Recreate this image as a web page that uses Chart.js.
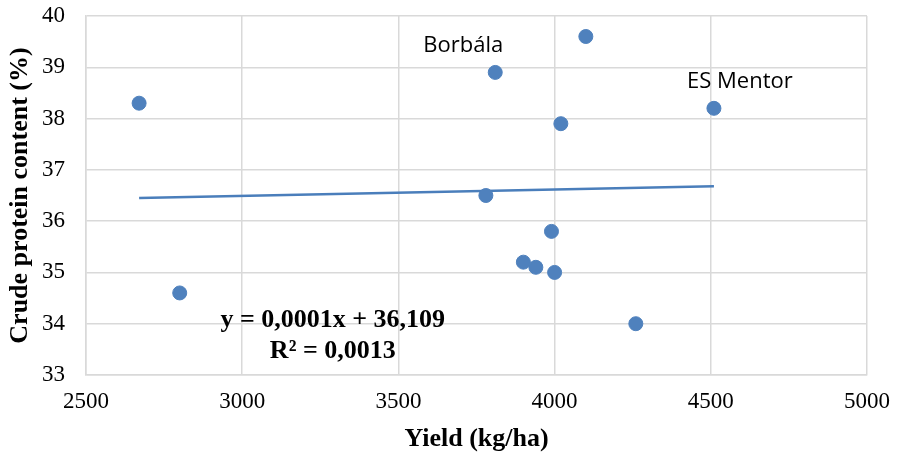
<!DOCTYPE html>
<html>
<head>
<meta charset="utf-8">
<script src="https://cdn.jsdelivr.net/npm/chart.js@4"></script>
<style>
  html, body { margin: 0; padding: 0; background: #ffffff; }
  #wrap { width: 901px; height: 455px; }
</style>
</head>
<body>
<div id="wrap"><canvas id="chart" width="901" height="455"></canvas></div>
<script>
// data
const yieldKg    = [2670, 2800, 3810, 4100, 4020, 4510, 3780, 3990, 3900, 3940, 4000, 4260];
const proteinPct = [38.3, 34.6, 38.9, 39.6, 37.9, 38.2, 36.5, 35.8, 35.2, 35.1, 35.0, 34.0];
const pointNames = ["", "", "Borbála", "", "", "ES Mentor", "", "", "", "", "", ""];

// linear trendline end points (as drawn)
const trendX = [2670, 4510];
const trendY = [36.45, 36.68];

const xRange = [2500, 5000, 500];
const yRange = [33, 40, 1];
const equationLines = ["y = 0,0001x + 36,109", "R² = 0,0013"];

const BLUE = "#4F81BD";
const GRID = "#d9d9d9";
const NONE = "rgba(0,0,0,0)";

const points = yieldKg.map((x, i) => ({ x: x, y: proteinPct[i] }));
const trend = trendX.map((x, i) => ({ x: x, y: trendY[i] }));

// point labels + trendline equation
const labelPlugin = {
  id: "labels",
  afterDatasetsDraw(chart) {
    const ctx = chart.ctx;
    const xs = chart.scales.x, ys = chart.scales.y;
    ctx.save();
    ctx.fillStyle = "#000";
    ctx.font = "22px 'Open Sans'";
    ctx.textAlign = "center";
    ctx.textBaseline = "alphabetic";
    pointNames.forEach((name, i) => {
      if (!name) return;
      const px = xs.getPixelForValue(yieldKg[i]);
      const py = ys.getPixelForValue(proteinPct[i]);
      // Borbála sits up-left of its point, ES Mentor up-right
      const dx = i === 2 ? -32 : 26;
      ctx.fillText(name, px + dx, py - 20);
    });
    ctx.font = "bold 26px 'Liberation Serif'";
    ctx.textBaseline = "middle";
    const ex = xs.getPixelForValue(3290);
    ctx.fillText(equationLines[0], ex, ys.getPixelForValue(34.07));
    ctx.fillText(equationLines[1], ex, ys.getPixelForValue(33.47));
    ctx.restore();
  }
};

new Chart(document.getElementById("chart"), {
  type: "scatter",
  data: {
    datasets: [
      {
        label: "Trend",
        type: "line",
        data: trend,
        borderColor: "#4a7ebb",
        borderWidth: 2.5,
        pointRadius: 0,
        fill: false,
        order: 2
      },
      {
        label: "Crude protein",
        data: points,
        backgroundColor: BLUE,
        borderColor: BLUE,
        pointRadius: 7,
        pointHoverRadius: 7,
        order: 1
      }
    ]
  },
  options: {
    responsive: false,
    animation: false,
    layout: { padding: { top: 16, right: 34, left: 0, bottom: 0 } },
    plugins: { legend: { display: false }, tooltip: { enabled: false } },
    scales: {
      x: {
        type: "linear",
        min: xRange[0], max: xRange[1],
        afterFit: (s) => { s.height = 80; },
        grid: { color: GRID, lineWidth: 1.5, drawTicks: true, tickLength: 13, tickColor: NONE },
        border: { color: GRID, width: 1.5 },
        ticks: {
          stepSize: xRange[2], padding: 0, color: "#000",
          callback: (v) => String(v),
          font: { family: "Liberation Serif", size: 23 }
        },
        title: {
          display: true, text: "Yield (kg/ha)", color: "#000",
          font: { family: "Liberation Serif", size: 26, weight: "bold", lineHeight: 1.2 },
          padding: { top: 0, bottom: 0 }
        }
      },
      y: {
        min: yRange[0], max: yRange[1],
        afterFit: (s) => { s.width = 86; },
        grid: { color: GRID, lineWidth: 1.5, drawTicks: true, tickLength: 21, tickColor: NONE },
        border: { color: GRID, width: 1.5 },
        ticks: {
          stepSize: yRange[2], padding: 0, color: "#000",
          callback: (v) => String(v),
          font: { family: "Liberation Serif", size: 23 }
        },
        title: {
          display: true, text: "Crude protein content (%)", color: "#000",
          font: { family: "Liberation Serif", size: 26, weight: "bold", lineHeight: 1.2 },
          padding: { top: 5, bottom: 0 }
        }
      }
    }
  },
  plugins: [labelPlugin]
});
</script>
</body>
</html>
